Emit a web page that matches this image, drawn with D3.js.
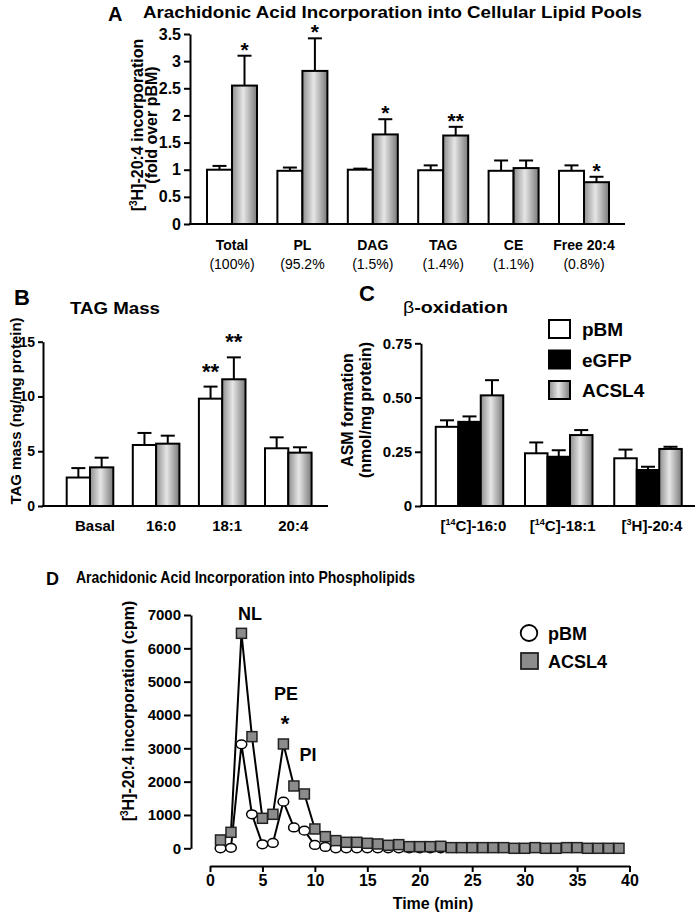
<!DOCTYPE html>
<html><head><meta charset="utf-8">
<script src="https://cdn.jsdelivr.net/npm/d3@7"></script>
<style>body{margin:0;background:#fff} svg{display:block} text{font-family:"Liberation Sans",Arial,Helvetica,sans-serif;fill:#000}</style>
</head><body><svg id="c" width="697" height="915"></svg>
<script>
// ---------- Panel A data ----------
const catsA = ["Total","PL","DAG","TAG","CE","Free 20:4"];
const pctA = ["(100%)","(95.2%","(1.5%)","(1.4%)","(1.1%)","(0.8%)"];
const pbmA = [1.0, 0.98, 1.0, 0.99, 0.98, 0.98];
const pbmErrA = [0.07, 0.06, 0.02, 0.09, 0.19, 0.10];
const acslA = [2.55, 2.82, 1.65, 1.63, 1.03, 0.77];
const acslErrA = [0.55, 0.60, 0.28, 0.16, 0.14, 0.10];
const sigA = ["*","*","*","**","","*"];
const ticksA = [0,0.5,1,1.5,2,2.5,3,3.5];

// ---------- Panel B data ----------
const catsB = ["Basal","16:0","18:1","20:4"];
const pbmB = [2.6, 5.57, 9.8, 5.27];
const pbmErrB = [0.86, 1.1, 1.1, 1.0];
const acslB = [3.53, 5.69, 11.57, 4.87];
const acslErrB = [0.88, 0.73, 2.0, 0.49];
const sigPbmB = ["","","**",""];
const sigAcslB = ["","","**",""];
const ticksB = [0,5,10,15];

// ---------- Panel C data ----------
const catsC = ["16:0","18:1","20:4"];
const isoC = ["14","14","3"];
const elemC = ["C","C","H"];
const pbmC = [0.365, 0.243, 0.22];
const pbmErrC = [0.03, 0.05, 0.04];
const egfpC = [0.388, 0.227, 0.166];
const egfpErrC = [0.025, 0.03, 0.015];
const acslC = [0.51, 0.327, 0.263];
const acslErrC = [0.07, 0.023, 0.01];
const ticksC = [0,0.25,0.5,0.75];
const legendC = ["pBM","eGFP","ACSL4"];

// ---------- Panel D data ----------
const timeD = [1,2,3,4,5,6,7,8,9,10,11,12,13,14,15,16,17,18,19,20,21,22,23,24,25,26,27,28,29,30,31,32,33,34,35,36,37,38,39];
const timePbmD = [1,2,3,4,5,6,7,8,9,10,11,12,13,14,15,16,17,18,19,20,21,22];
const pbmD  = [0,15,3120,1020,120,160,1400,625,530,100,40,0,0,0,0,0,0,0,0,0,0,0];
const acslD = [250,480,6450,3350,900,1020,3130,1870,1630,580,350,230,180,180,150,130,90,110,50,50,50,60,20,20,20,20,20,20,0,0,20,0,0,20,20,0,0,0,0];
const ticksDy = [0,1000,2000,3000,4000,5000,6000,7000];
const ticksDx = [0,5,10,15,20,25,30,35,40];

const FONT = '"Liberation Sans", Arial, Helvetica, sans-serif';
const svg = d3.select("#c");

const defs = svg.append("defs");
const gr = defs.append("linearGradient").attr("id","gbar").attr("x1","0").attr("x2","1").attr("y1","0").attr("y2","0");
[["0%","#8e8e8e"],["45%","#e6e6e6"],["100%","#7a7a7a"]].forEach(s=>gr.append("stop").attr("offset",s[0]).attr("stop-color",s[1]));

function txt(x,y,s,size,weight,anchor){
  return svg.append("text").attr("x",x).attr("y",y).attr("font-size",size).attr("font-weight",weight||"bold")
    .attr("text-anchor",anchor||"start").text(s);
}
function yAxis(scale,x,ticks,fmt,size,tick){
  const ax = d3.axisLeft(scale).tickValues(ticks).tickFormat(fmt).tickSize(tick||6).tickSizeOuter(0).tickPadding(3);
  const g = svg.append("g").attr("transform",`translate(${x},0)`).call(ax);
  g.attr("font-family",FONT).attr("font-size",size).attr("font-weight","bold");
  g.select(".domain").attr("stroke","#000").attr("stroke-width",2);
  g.selectAll(".tick line").attr("stroke","#000").attr("stroke-width",2);
  g.selectAll(".tick text").attr("fill","#000");
  return g;
}
function hline(x1,x2,y){
  svg.append("line").attr("x1",x1).attr("x2",x2).attr("y1",y).attr("y2",y).attr("stroke","#000").attr("stroke-width",2);
}
function barSeries(cats,vals,errs,xs,ys,w,off,fill,cap){
  const data = cats.map((c,i)=>({c,v:vals[i],e:errs[i]}));
  const g = svg.append("g");
  g.selectAll("line.eb").data(data).join("line").attr("class","eb")
    .attr("x1",d=>xs(d.c)+off*w+w/2).attr("x2",d=>xs(d.c)+off*w+w/2)
    .attr("y1",d=>ys(d.v)).attr("y2",d=>ys(d.v+d.e)).attr("stroke","#000").attr("stroke-width",2);
  g.selectAll("line.cap").data(data).join("line").attr("class","cap")
    .attr("x1",d=>xs(d.c)+off*w+w/2-cap).attr("x2",d=>xs(d.c)+off*w+w/2+cap)
    .attr("y1",d=>ys(d.v+d.e)).attr("y2",d=>ys(d.v+d.e)).attr("stroke","#000").attr("stroke-width",2);
  g.selectAll("rect").data(data).join("rect")
    .attr("x",d=>xs(d.c)+off*w).attr("width",w)
    .attr("y",d=>ys(d.v)).attr("height",d=>ys(0)-ys(d.v))
    .attr("fill",fill).attr("stroke","#000").attr("stroke-width",2);
}
function supText(parent,x,y,size,pre,sup,post,anchor){
  const t = parent.append("text").attr("x",x).attr("y",y).attr("text-anchor",anchor||"middle").attr("font-size",size).attr("font-weight","bold");
  t.append("tspan").text(pre);
  t.append("tspan").attr("font-size",Math.round(size*0.62)).attr("dy",-size*0.38).text(sup);
  t.append("tspan").attr("dy",size*0.38).text(post);
  return t;
}

// ================= Panel A =================
const xA = d3.scalePoint().domain(catsA).range([232,584]);
const yA = d3.scaleLinear().domain([0,3.5]).range([224,34]);
const wA = 25;
txt(108,21,"A",20,"bold");
txt(143,18,"Arachidonic Acid Incorporation into Cellular Lipid Pools",16,"bold").attr("textLength",499).attr("lengthAdjust","spacingAndGlyphs");
barSeries(catsA,pbmA,pbmErrA,xA,yA,wA,-1,"#fff",7);
barSeries(catsA,acslA,acslErrA,xA,yA,wA,0,"url(#gbar)",7);
yAxis(yA,190,ticksA,d=>String(d),16,6);
hline(189,625,224);
catsA.forEach((c,i)=>{
  txt(xA(c),250,c,14,"bold","middle");
  txt(xA(c),269,pctA[i],14,"normal","middle");
  if(sigA[i]) txt(xA(c)+wA/2,yA(acslA[i]+acslErrA[i])+1,sigA[i],21,"bold","middle");
});
{
  const g = svg.append("g").attr("transform","translate(0,125) rotate(-90)");
  supText(g,0,143,16,"[","3","H]-20:4 incorporation");
  g.append("text").attr("x",0).attr("y",157).attr("text-anchor","middle").attr("font-size",16).attr("font-weight","bold").text("(fold over pBM)");
}

// ================= Panel B =================
const xB = d3.scalePoint().domain(catsB).range([90,288.3]);
const yB = d3.scaleLinear().domain([0,15]).range([506,341.7]);
const wB = 23.3;
txt(14,305,"B",22,"bold");
txt(70,314,"TAG Mass",17,"bold").attr("textLength",90).attr("lengthAdjust","spacingAndGlyphs");
barSeries(catsB,pbmB,pbmErrB,xB,yB,wB,-1,"#fff",7);
barSeries(catsB,acslB,acslErrB,xB,yB,wB,0,"url(#gbar)",7);
yAxis(yB,43,ticksB,d=>String(d),14,5);
hline(42,328,506);
catsB.forEach((c,i)=>{
  txt(xB(c)+5,531,c,15,"bold","middle");
  if(sigPbmB[i]) txt(xB(c)-wB/2,yB(pbmB[i]+pbmErrB[i])-8,sigPbmB[i],22,"bold","middle");
  if(sigAcslB[i]) txt(xB(c)+wB/2,yB(acslB[i]+acslErrB[i])-8,sigAcslB[i],22,"bold","middle");
});
{
  const g = svg.append("g").attr("transform","translate(0,411) rotate(-90)");
  g.append("text").attr("x",0).attr("y",20.5).attr("text-anchor","middle").attr("font-size",15).attr("font-weight","bold").text("TAG mass (ng/mg protein)");
}

// ================= Panel C =================
const xC = d3.scalePoint().domain(catsC).range([469.5,648]);
const yC = d3.scaleLinear().domain([0,0.75]).range([506,343.3]);
const wC = 22.5;
txt(359,301,"C",22,"bold");
{
  const t = txt(403,313,"",17,"bold");
  t.append("tspan").attr("font-weight","normal").text("β");
  t.append("tspan").text("-oxidation");
  t.attr("textLength",105).attr("lengthAdjust","spacingAndGlyphs");
}
barSeries(catsC,pbmC,pbmErrC,xC,yC,wC,-1.5,"#fff",7);
barSeries(catsC,egfpC,egfpErrC,xC,yC,wC,-0.5,"#000",7);
barSeries(catsC,acslC,acslErrC,xC,yC,wC,0.5,"url(#gbar)",7);
yAxis(yC,421,ticksC,d=>d===0?"0":d.toFixed(2),15,6);
hline(420,695,506);
catsC.forEach((c,i)=>{
  supText(svg,xC(c)+4,531,15,"[",isoC[i],elemC[i]+"]-"+c);
});
{
  const g = svg.append("g").attr("transform","translate(0,410) rotate(-90)");
  g.append("text").attr("x",0).attr("y",353).attr("text-anchor","middle").attr("font-size",16).attr("font-weight","bold").text("ASM formation");
  g.append("text").attr("x",0).attr("y",371).attr("text-anchor","middle").attr("font-size",16).attr("font-weight","bold").text("(nmol/mg protein)");
}
{
  const fills = ["#fff","#000","url(#gbar)"];
  const ly = d3.scalePoint().domain(legendC).range([329,390]);
  legendC.forEach((s,i)=>{
    svg.append("rect").attr("x",549).attr("y",ly(s)-9).attr("width",21).attr("height",18).attr("fill",fills[i]).attr("stroke","#000").attr("stroke-width",2);
    txt(582,ly(s)+7,s,19,"bold");
  });
}

// ================= Panel D =================
const xD = d3.scaleLinear().domain([0,40]).range([210,629.5]);
const yD = d3.scaleLinear().domain([0,7000]).range([848.3,615]);
txt(46,585,"D",18,"bold");
txt(76,583,"Arachidonic Acid Incorporation into Phospholipids",16.5,"bold").attr("textLength",339).attr("lengthAdjust","spacingAndGlyphs");
yAxis(yD,191,ticksDy,d=>String(d),15,7);
{
  const ax = d3.axisBottom(xD).tickValues(ticksDx).tickFormat(d=>String(d)).tickSize(6).tickSizeOuter(0).tickPadding(3);
  const g = svg.append("g").attr("transform","translate(0,866)").call(ax);
  g.attr("font-family",FONT).attr("font-size",16).attr("font-weight","bold");
  g.select(".domain").attr("stroke","#000").attr("stroke-width",2);
  g.selectAll(".tick line").attr("stroke","#000").attr("stroke-width",2);
  g.selectAll(".tick text").attr("fill","#000");
}
txt(433,909,"Time (min)",16,"bold","middle");
{
  const g = svg.append("g").attr("transform","translate(0,711) rotate(-90)");
  supText(g,0,134,16,"[","3","H]-20:4 incorporation (cpm)");
}
const dP = timePbmD.map((t,i)=>({t,v:pbmD[i]}));
const dA = timeD.map((t,i)=>({t,v:acslD[i]}));
const line = d3.line().x(d=>xD(d.t)).y(d=>yD(d.v));
svg.append("path").datum(dP).attr("d",line).attr("fill","none").attr("stroke","#000").attr("stroke-width",2);
svg.append("path").datum(dA).attr("d",line).attr("fill","none").attr("stroke","#000").attr("stroke-width",2);
svg.append("g").selectAll("ellipse").data(dP).join("ellipse")
  .attr("cx",d=>xD(d.t)).attr("cy",d=>yD(d.v)).attr("rx",5.3).attr("ry",4.4)
  .attr("fill","#fff").attr("stroke","#000").attr("stroke-width",1.5);
svg.append("g").selectAll("rect").data(dA).join("rect")
  .attr("x",d=>xD(d.t)-5).attr("y",d=>yD(d.v)-5).attr("width",10).attr("height",10)
  .attr("fill","#8c8c8c").attr("stroke","#222").attr("stroke-width",1.5);
txt(250,620,"NL",18,"bold","middle");
txt(286,700,"PE",18,"bold","middle");
txt(285,731,"*",22,"bold","middle");
txt(308,761,"PI",18,"bold","middle");
svg.append("ellipse").attr("cx",529).attr("cy",633).attr("rx",8.3).attr("ry",8).attr("fill","#fff").attr("stroke","#000").attr("stroke-width",1.8);
txt(548,640,"pBM",18,"bold");
svg.append("rect").attr("x",521).attr("y",653).attr("width",17).attr("height",16).attr("fill","#8c8c8c").attr("stroke","#222").attr("stroke-width",1.8);
txt(548,668,"ACSL4",18,"bold");
</script></body></html>
